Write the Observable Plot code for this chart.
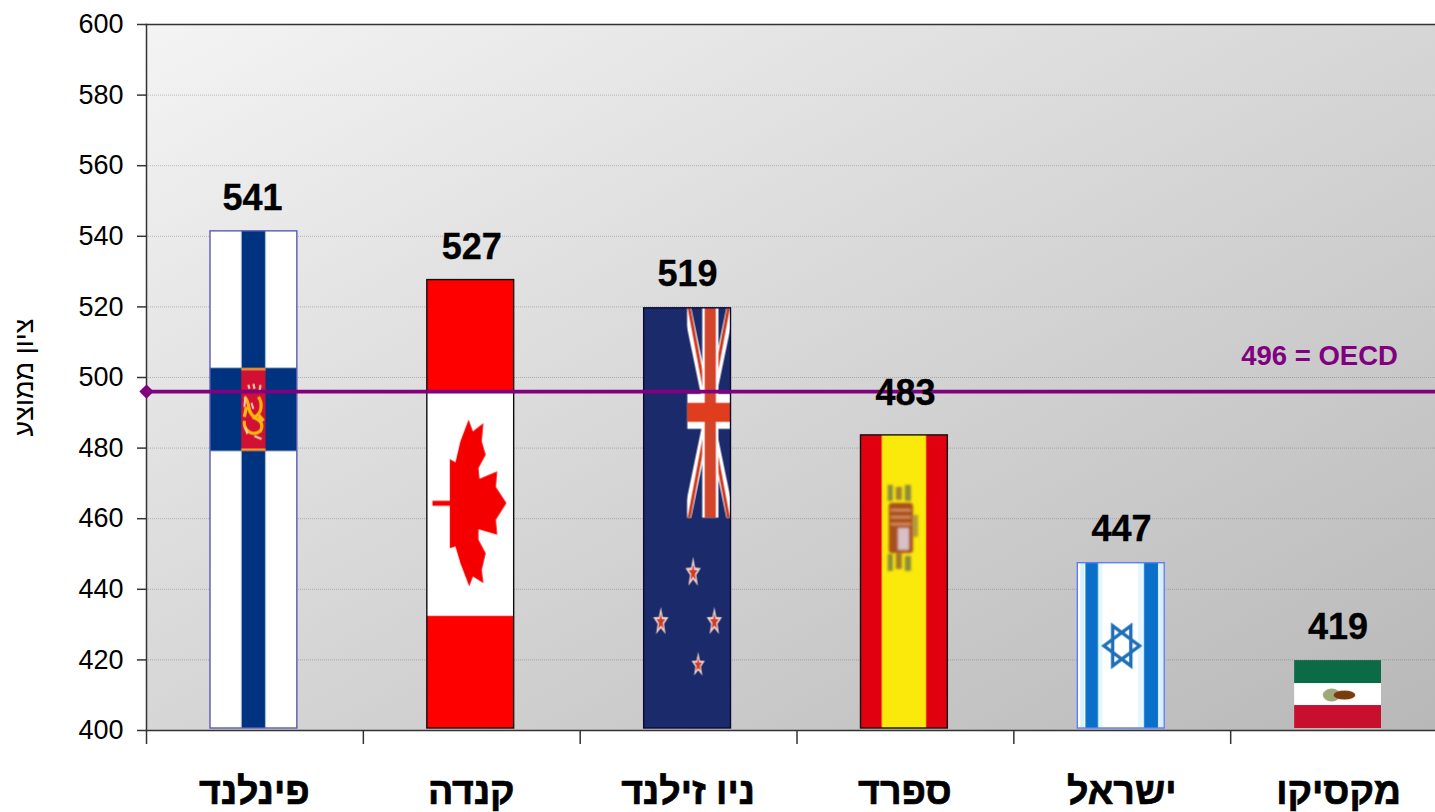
<!DOCTYPE html>
<html lang="he">
<head>
<meta charset="utf-8">
<style>html,body{margin:0;padding:0;background:#fff;overflow:hidden}</style>
<script src="https://cdn.jsdelivr.net/npm/d3@7"></script>
<script src="https://cdn.jsdelivr.net/npm/@observablehq/plot@0.6"></script>
</head>
<body>
<script>
const categories = ["פינלנד", "קנדה", "ניו זילנד", "ספרד", "ישראל", "מקסיקו"];
const scores = [541, 527, 519, 483, 447, 419];
// top of each flag (the pictures overshoot their printed score slightly)
const flagTops = [541.4, 527.6, 519.6, 483.6, 447.4, 419.8];
const oecdScore = 496;
const oecdLabel = "496 = OECD";
const yTicks = [400, 420, 440, 460, 480, 500, 520, 540, 560, 580, 600];
const yTitle = "ציון ממוצע";

const FONT = "'Liberation Sans', Arial, sans-serif";
const PURPLE = "#800080";
const edges = ["#5a5ab4", "#0c0c0c", "#0a0a30", "#111111", "#5b7cff", "none"];
const labelDx = [-2.4, 0, -1, 0, -0.7, -1];
const labelDy = [-34, -35, -36, -44, -35, -36];

const star = (cx, cy, rx, ry, inner, outerFill, innerFill) => {
  const pts = (k) => d3.range(10).map(i => {
    const a = -Math.PI / 2 + i * Math.PI / 5, r = i % 2 ? inner * k : k;
    return `${cx + rx * r * Math.cos(a)},${cy + ry * r * Math.sin(a)}`;
  }).join(" ");
  return `<polygon points="${pts(1)}" fill="${outerFill}"/><polygon points="${pts(0.55)}" fill="${innerFill}"/>`;
};

const flagArt = [
  // Finland
  {vb: "0 0 86 497", art: `
    <rect width="86" height="497" fill="#fff"/>
    <rect x="30.5" width="25" height="497" fill="#b8c8e0"/>
    <rect x="31.5" width="23" height="497" fill="#00337f"/>
    <rect y="137" width="86" height="83" fill="#00337f"/>
    <rect x="31" y="137" width="24" height="83" fill="#d21034"/>
    <rect x="31" y="137" width="24" height="2.4" fill="#e8a030"/>
    <rect x="31" y="217.6" width="24" height="2.4" fill="#e8a030"/>
    <g filter="url(#soft)" fill="none" stroke="#fbb80f" stroke-width="3.2">
      <path d="M34 166 C40 170 36 182 44 186 C52 182 52 172 48 166 M34 190 C33 200 42 206 50 200 C54 192 48 188 42 186 M36 176 L34 186 M48 184 L53 190"/>
      <path d="M38 154 L39 158 M43 153 L44 158 M50 154 L49 160 M35 196 L37 203 M44 205 L51 208" stroke="#f4d0a0" stroke-width="2.2"/>
      <path d="M35 166 L34 176 M41 172 L43 178" stroke="#f0c0c8" stroke-width="2"/>
    </g>`},
  // Canada
  {vb: "0 0 88 448", art: `
    <rect width="88" height="448" fill="#fff"/>
    <rect width="88" height="112" fill="#ff0000"/>
    <rect y="336" width="88" height="112" fill="#ff0000"/>
    <g transform="translate(-6,120) scale(.3333)">
      <polygon fill="#f40000" points="35,303 88,303 88,178 105,188 120,125 145,60 158,95 190,70 185,125 197,165 175,205 178,237 232,215 228,262 260,310 228,360 232,405 175,388 175,420 197,460 185,510 190,550 158,530 147,560 120,490 105,440 88,445 88,318 35,318"/>
    </g>`},
  // New Zealand
  {vb: "0 0 86 420", art: `
    <rect width="86" height="420" fill="#1b2a6b"/>
    <svg x="43" y="0" width="43" height="210" viewBox="0 0 43 210" preserveAspectRatio="none">
      <line x1="0" y1="0" x2="43" y2="210" stroke="#fff" stroke-width="8"/>
      <line x1="43" y1="0" x2="0" y2="210" stroke="#fff" stroke-width="8"/>
      <line x1="2" y1="0" x2="41" y2="210" stroke="#cf3a22" stroke-width="3"/>
      <line x1="41" y1="0" x2="2" y2="210" stroke="#cf3a22" stroke-width="3"/>
      <rect x="15" width="16" height="210" fill="#fff"/>
      <rect y="86" width="43" height="35" fill="#fff"/>
      <rect x="17.5" width="11" height="210" fill="#d2452a"/>
      <rect y="95" width="43" height="19" fill="#e03c1e"/>
    </svg>
    <g filter="url(#soft)">
      ${star(49, 265, 8, 16, .42, "#f0cfc8", "#cf3a2a")}
      ${star(17, 314, 8, 15, .42, "#f0cfc8", "#cf3a2a")}
      ${star(70, 314, 8, 15, .42, "#f0cfc8", "#cf3a2a")}
      ${star(54, 357, 7, 13, .42, "#f0cfc8", "#cf3a2a")}
    </g>`},
  // Spain
  {vb: "0 0 86 293", art: `
    <rect width="86" height="293" fill="#e00010"/>
    <rect x="21" width="44" height="293" fill="#fbe90c"/>
    <g filter="url(#soft2)">
      <rect x="27" y="50" width="5" height="16" fill="#8a8a3a"/>
      <rect x="35" y="52" width="6" height="13" fill="#a08030"/>
      <rect x="44" y="50" width="6" height="16" fill="#8a8a3a"/>
      <rect x="28" y="68" width="24" height="50" rx="3" fill="#a8501c"/>
      <rect x="52" y="80" width="5" height="22" fill="#b59a3a"/>
      <rect x="30" y="74" width="20" height="2.4" fill="#d99060"/>
      <rect x="30" y="81" width="20" height="2.4" fill="#d99060"/>
      <rect x="30" y="88" width="20" height="2.4" fill="#d99060"/>
      <rect x="37" y="93" width="11" height="22" fill="#d8c0c8"/>
      <rect x="27" y="119" width="5" height="17" fill="#8a8a3a"/>
      <rect x="35" y="118" width="6" height="16" fill="#a07828"/>
      <rect x="44" y="121" width="6" height="15" fill="#8a8a3a"/>
    </g>`},
  // Israel
  {vb: "0 0 86 165", art: `
    <rect width="86" height="165" fill="#fff"/>
    <rect x="3" width="4" height="165" fill="#d8f0ff"/>
    <rect x="21" width="4" height="165" fill="#e4f6ff"/>
    <rect x="60" width="5" height="165" fill="#e4f6ff"/>
    <rect x="81" width="4" height="165" fill="#d8f0ff"/>
    <rect x="8" width="12.5" height="165" fill="#0a6fc8"/>
    <rect x="66" width="14" height="165" fill="#0a6fc8"/>
    <g transform="translate(-17,-13) scale(.3333)" fill="none" stroke="#1c6fb8" stroke-width="10">
      <polygon points="130,288 210,228 210,348"/>
      <polygon points="236,288 156,228 156,348"/>
    </g>`},
  // Mexico
  {vb: "0 0 88 68", art: `
    <rect width="88" height="68" fill="#fff"/>
    <rect width="88" height="23" fill="#0b6b46"/>
    <rect y="45" width="88" height="23" fill="#c8102e"/>
    <g filter="url(#soft)">
      <ellipse cx="38" cy="35" rx="9" ry="6.5" fill="#a0a878"/>
      <ellipse cx="51" cy="35" rx="11" ry="4.5" fill="#7a3a10"/>
    </g>`}
];

const defs = () => d3.create("svg:defs").html(`
  <linearGradient id="bg" x1="0" y1="0" x2="1" y2="1">
    <stop offset="0" stop-color="#f4f4f4"/>
    <stop offset="1" stop-color="#b8b8b8"/>
  </linearGradient>
  <filter id="soft" x="-10%" y="-10%" width="120%" height="120%"><feGaussianBlur stdDeviation="0.6"/></filter>
  <filter id="soft2" x="-10%" y="-10%" width="120%" height="120%"><feGaussianBlur stdDeviation="1"/></filter>
  ${flagArt.map((f, i) => `
    <pattern id="flag${i}" patternUnits="objectBoundingBox" width="1" height="1" viewBox="${f.vb}" preserveAspectRatio="none">${f.art}</pattern>`).join("")}
`).node();

const rows = categories.map((country, i) => ({
  country, score: scores[i], top: flagTops[i], fill: `url(#flag${i})`, edge: edges[i]
}));

const chart = Plot.plot({
  width: 1435,
  height: 812,
  marginTop: 24,
  marginBottom: 82,
  marginLeft: 146,
  marginRight: 0,
  style: {fontFamily: FONT, background: "#fff", color: "#000"},
  color: {type: "identity"},
  x: {domain: categories, range: [146, 1447], padding: 0, round: false, label: null},
  y: {domain: [400, 600], label: null},
  marks: [
    defs,
    Plot.frame({fill: "url(#bg)", stroke: "none"}),
    Plot.ruleY(yTicks.slice(1, -1), {stroke: "#666", strokeOpacity: 0.4, strokeWidth: 1, strokeDasharray: "1 1"}),
    Plot.barY(rows, {
      x: "country", y1: () => 400, y2: "top", fill: "fill", stroke: "edge", strokeWidth: 1.4,
      insetLeft: 64, insetRight: 66, insetBottom: 2
    }),
    Plot.frame({anchor: "left", stroke: "#333", strokeWidth: 1.5}),
    Plot.frame({anchor: "bottom", stroke: "#333", strokeWidth: 1.5}),
    Plot.frame({anchor: "top", stroke: "#333", strokeWidth: 1.5}),
    Plot.ruleY([oecdScore], {stroke: PURPLE, strokeWidth: 3.8}),
    Plot.dot([oecdScore], {y: d => d, frameAnchor: "left", symbol: "diamond2", r: 5.5, fill: PURPLE, stroke: PURPLE}),
    Plot.axisY({
      ticks: yTicks, tickSize: 9, tickPadding: 14, fontSize: 27, stroke: "#333", strokeWidth: 1.5,
      label: yTitle, labelAnchor: "center", labelArrow: "none", labelOffset: 133
    }),
    Plot.axisX({tickSize: 14, tickFormat: () => "", dx: -108.4, stroke: "#333", strokeWidth: 1.5, label: null}),
    Plot.axisX({
      tickSize: 0, tickPadding: 46.5, fontSize: 37.5, fontWeight: "bold", dx: -0.5, label: null,
      fill: "#000", textStroke: "#000", textStrokeWidth: 0.7
    }),
    ...rows.map((row, i) => Plot.text([row], {
      x: "country", y: "score", text: d => String(d.score), dx: labelDx[i], dy: labelDy[i],
      fontSize: 36, fontWeight: "bold", fill: "#000", stroke: "#000", strokeWidth: 0.35
    })),
    Plot.text([oecdLabel], {
      x: () => categories[5], y: () => oecdScore, text: d => d, dx: -19.5, dy: -35,
      fontSize: 27.5, fontWeight: "bold", fill: PURPLE
    })
  ]
});
document.body.appendChild(chart);
</script>
</body>
</html>
